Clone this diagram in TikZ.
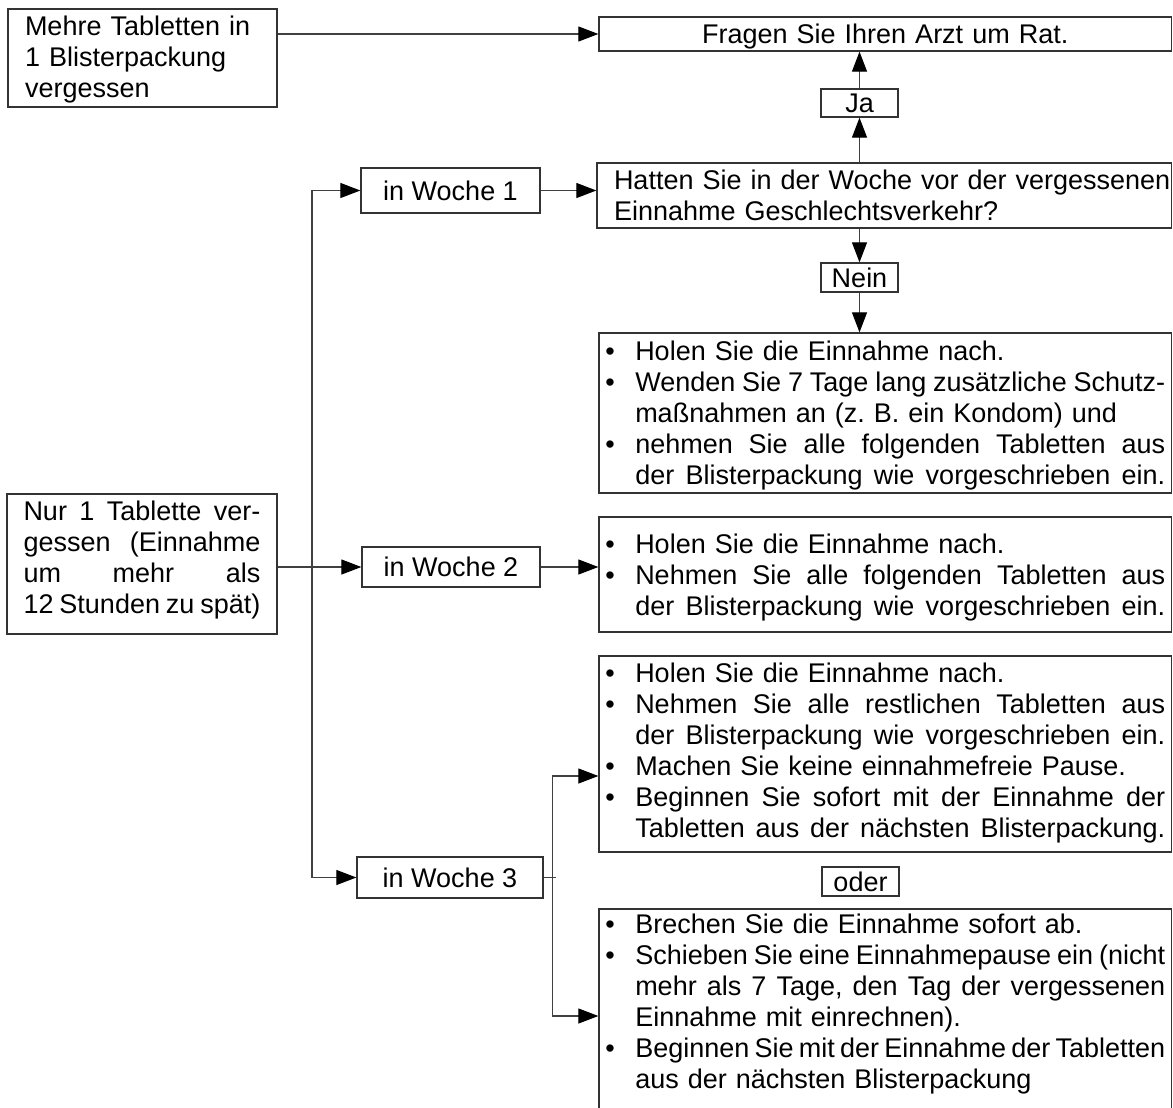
\documentclass[tikz,border=0pt]{standalone}
\usepackage{fontspec}
\setmainfont{Liberation Sans}
\usetikzlibrary{arrows.meta}
\newlength\bind \setlength\bind{30pt}
\newlength\twd \setlength\twd{560pt}
\newcommand\capst{\rule{0pt}{19.3pt}}
\newcommand\xdp[1]{\rule[-#1]{0pt}{#1}}
\newcommand\JBox[2]{\hbox to #1{\spaceskip=0.278em plus 1fill minus 0.15em\relax #2}}
\newcommand\BL[1]{\smash{\makebox[\bind][l]{•}#1}}
\newcommand\BJ[1]{\smash{\makebox[\bind][l]{•}\JBox{\dimexpr\twd-\bind\relax}{#1}}}
\newcommand\CL[1]{\smash{\hspace*{\bind}#1}}
\newcommand\CJ[1]{\smash{\hspace*{\bind}\JBox{\dimexpr\twd-\bind\relax}{#1}}}
\newcommand\PL[1]{\smash{#1}}
\newcommand\PJ[1]{\smash{\JBox{\twd}{#1}}}
\newcommand\fsz{\fontsize{27pt}{31pt}\selectfont\frenchspacing}
\tikzset{
  tbox/.style={draw=black!80, line width=1.3pt, inner ysep=0pt, font=\fsz, align=left},
  sbox/.style={draw=black!80, line width=1.3pt, inner sep=0pt, font=\fsz},
  conn/.style={draw=black!75, line width=1.1pt},
  arr/.style={conn, -{Triangle[length=20pt,width=15pt,color=black]}},
  arrs/.style={conn, {Triangle[length=20pt,width=15pt,color=black]}-{Triangle[length=20pt,width=15pt,color=black]}}
}
\begin{document}
\begin{tikzpicture}[x=1pt,y=-1pt]
\useasboundingbox (0,0) rectangle (1173,1108);
\fill[white] (0,0) rectangle (1173,1108);
\clip (0,0) rectangle (1173,1108);

% left boxes
\node[tbox, text width=235pt, inner xsep=17pt, minimum height=98pt] (mehr) at (142.5,58)
  {\capst\PL{Mehre Tabletten in}\\\PL{1 Blisterpackung}\\\PL{vergessen}\xdp{3pt}};
\node[tbox, text width=237pt, inner xsep=16.5pt, minimum height=140pt] (nur) at (142,564)
  {\setlength\twd{237pt}\capst\PJ{Nur 1 Tablette ver-}\\\PJ{gessen (Einnahme}\\\PJ{um mehr als}\\\PJ{12 Stunden zu spät)}\xdp{13.3pt}};

% top right
\node[tbox, text width=560pt, inner xsep=6.25pt, minimum height=34pt, align=center] (arzt) at (885.25,34)
  {\capst\PL{Fragen Sie Ihren Arzt um Rat.}};
\node[sbox, minimum width=77pt, minimum height=28pt] (ja) at (859.5,103) {\capst\smash{Ja}};
\node[tbox, text width=558.5pt, inner xsep=8pt, minimum height=65pt] (hatten) at (884.25,195.5)
  {\capst\PL{\hspace*{9pt}Hatten Sie in der Woche vor der vergessenen}\\\PL{\hspace*{9pt}Einnahme Geschlechtsverkehr?}};
\node[sbox, minimum width=77pt, minimum height=29pt] (nein) at (859.5,277.5) {\capst\smash{Nein}};

% week boxes
\node[sbox, minimum width=179pt, minimum height=45pt] (w1) at (450.5,190.5) {\capst\smash{in Woche 1}};
\node[sbox, minimum width=178pt, minimum height=40pt] (w2) at (451,567) {\capst\smash{in Woche 2}};
\node[sbox, minimum width=186pt, minimum height=41pt] (w3) at (450,877.5) {\capst\smash{in Woche 3}};

% instruction boxes
\node[tbox, text width=560pt, inner xsep=6.25pt, minimum height=160pt] (b1) at (885.25,413)
  {\capst\BL{Holen Sie die Einnahme nach.}\\
   \BJ{Wenden Sie 7 Tage lang zusätzliche Schutz-}\\
   \CL{maßnahmen an (z. B. ein Kondom) und}\\
   \BJ{nehmen Sie alle folgenden Tabletten aus}\\
   \CJ{der Blisterpackung wie vorgeschrieben ein.}};
\node[tbox, text width=560pt, inner xsep=6.25pt, minimum height=115pt] (b2) at (885.25,574.5)
  {\capst\BL{Holen Sie die Einnahme nach.}\\
   \BJ{Nehmen Sie alle folgenden Tabletten aus}\\
   \CJ{der Blisterpackung wie vorgeschrieben ein.}};
\node[tbox, text width=560pt, inner xsep=6.25pt, minimum height=196pt] (b3) at (885.25,754)
  {\capst\BL{Holen Sie die Einnahme nach.}\\
   \BJ{Nehmen Sie alle restlichen Tabletten aus}\\
   \CJ{der Blisterpackung wie vorgeschrieben ein.}\\
   \BL{Machen Sie keine einnahmefreie Pause.}\\
   \BJ{Beginnen Sie sofort mit der Einnahme der}\\
   \CJ{Tabletten aus der nächsten Blisterpackung.}\xdp{8pt}};
\node[sbox, minimum width=77pt, minimum height=29pt] (oder) at (860.5,881.5) {\capst\smash{oder}};
\node[tbox, text width=560pt, inner xsep=6.25pt, minimum height=221pt] (b4) at (885.25,1019.5)
  {\capst\BL{Brechen Sie die Einnahme sofort ab.}\\
   \BJ{Schieben Sie eine Einnahmepause ein (nicht}\\
   \CJ{mehr als 7 Tage, den Tag der vergessenen}\\
   \CL{Einnahme mit einrechnen).}\\
   \BJ{Beginnen Sie mit der Einnahme der Tabletten}\\
   \CL{aus der nächsten Blisterpackung}\xdp{36.3pt}};

% connectors
\draw[arr] (mehr.east |- arzt.west) -- (arzt.west);
\draw[arr] (ja.north) -- (ja.north |- arzt.south);
\draw[arr] (ja.south |- hatten.north) -- (ja.south);
\draw[arr] (nein.north |- hatten.south) -- (nein.north);
\draw[arr] (nein.south) -- (nein.south |- b1.north);
\draw[arr] (w1.east) -- (w1.east -| hatten.west);
\draw[arr] (w2.east) -- (w2.east -| b2.west);
\draw[arr] (nur.east |- w2.west) -- (w2.west);

\coordinate (t1) at (312,190.5);
\coordinate (t3) at (312,877.5);
\draw[arrs] (w1.west) -- (t1) -- (t3) -- (w3.west);

\coordinate (br3) at (552.5,776);
\coordinate (br4) at (552.5,1016);
\coordinate (stub) at (555.5,877.5);
\draw[conn] (w3.east) -- (stub);
\draw[arrs] (br3 -| b3.west) -- (br3) -- (br4) -- (br4 -| b4.west);
\end{tikzpicture}
\end{document}
